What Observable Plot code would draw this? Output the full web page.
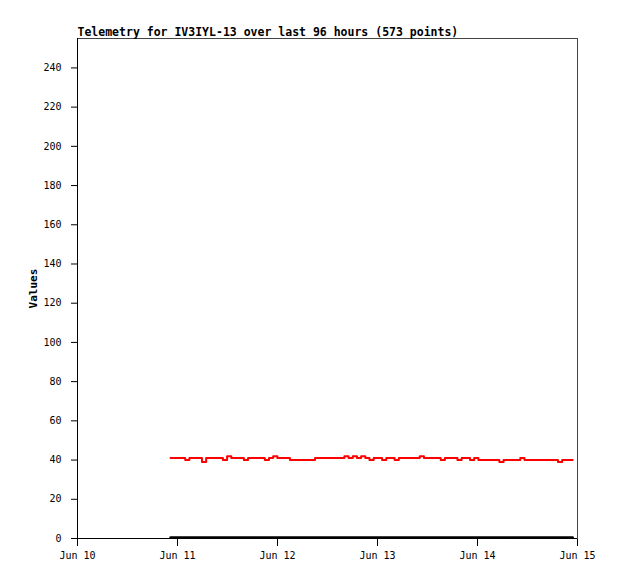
<!DOCTYPE html>
<html>
<head>
<meta charset="utf-8">
<script src="https://cdn.jsdelivr.net/npm/d3@7"></script>
<script src="https://cdn.jsdelivr.net/npm/@observablehq/plot@0.6"></script>
<style>
  body { margin: 0; background: #fff; }
</style>
</head>
<body>
<div id="chart"></div>
<script>
// telemetry samples, roughly one per hour, starting Jun 10 22:20 UTC
const startTime = new Date(Date.UTC(2024, 5, 10, 22, 20))
const endTime = new Date(Date.UTC(2024, 5, 14, 22, 50))
const values = [
  41, 41,
  41, 41, 40, 41, 41, 41, 39, 41, 41, 41, 41, 40, 42, 41, 41, 41, 40, 41, 41, 41, 41, 40, 41, 42,
  41, 41, 41, 40, 40, 40, 40, 40, 40, 41, 41, 41, 41, 41, 41, 41, 42, 41, 42, 41, 42, 41, 40, 41,
  41, 40, 41, 41, 40, 41, 41, 41, 41, 41, 42, 41, 41, 41, 41, 40, 41, 41, 41, 40, 41, 41, 40, 41,
  40, 40, 40, 40, 40, 39, 40, 40, 40, 40, 41, 40, 40, 40, 40, 40, 40, 40, 40, 39, 40, 40, 40
]
const zeroValues = [0, 0]
const xTicks = [10, 11, 12, 13, 14, 15].map(d => new Date(Date.UTC(2024, 5, d)))
const yTicks = d3.range(0, 241, 20)

const step = (endTime - startTime) / (values.length - 1)
const data = values.map((v, i) => ({ time: new Date(+startTime + i * step), value: v }))
const zeroData = [
  { time: startTime, value: zeroValues[0] },
  { time: endTime, value: zeroValues[1] }
]

const chart = Plot.plot({
  width: 618,
  height: 579,
  marginLeft: 77,
  marginRight: 41,
  marginTop: 38,
  marginBottom: 41,
  style: {
    fontFamily: '"DejaVu Sans Mono", monospace',
    fontSize: 10,
    color: 'black',
    background: 'white'
  },
  x: {
    type: 'utc',
    domain: [xTicks[0], xTicks[xTicks.length - 1]],
    ticks: xTicks,
    tickFormat: d3.utcFormat('%b %d'),
    tickSize: 8,
    tickPadding: 5,
    label: null
  },
  y: {
    domain: [0, 255],
    ticks: yTicks,
    tickSize: 6,
    tickPadding: 10,
    label: 'Values',
    labelArrow: 'none',
    labelAnchor: 'center',
    labelOffset: 48
  },
  marks: [
    Plot.frame({ stroke: '#444' }),
    Plot.ruleX([xTicks[0]], { stroke: 'black' }),
    Plot.ruleY([0], { stroke: 'black' }),
    Plot.line(zeroData, { x: 'time', y: 'value', stroke: 'black', strokeWidth: 2.5, dy: -1 }),
    Plot.line(data, { x: 'time', y: 'value', stroke: 'red', strokeWidth: 2, curve: 'step' }),
    Plot.text(['Telemetry for IV3IYL-13 over last 96 hours (573 points)'], {
      frameAnchor: 'top-left',
      textAnchor: 'start',
      lineAnchor: 'bottom',
      dy: -3,
      fontSize: 11.5,
      fontWeight: 'bold'
    })
  ]
})

d3.select('#chart').append(() => chart)
// y label bold, and no arrow, like the reference
d3.select(chart).selectAll('[aria-label="y-axis label"] text')
  .text('Values')
  .style('font-weight', 'bold')
  .style('font-size', '11px')
</script>
</body>
</html>
